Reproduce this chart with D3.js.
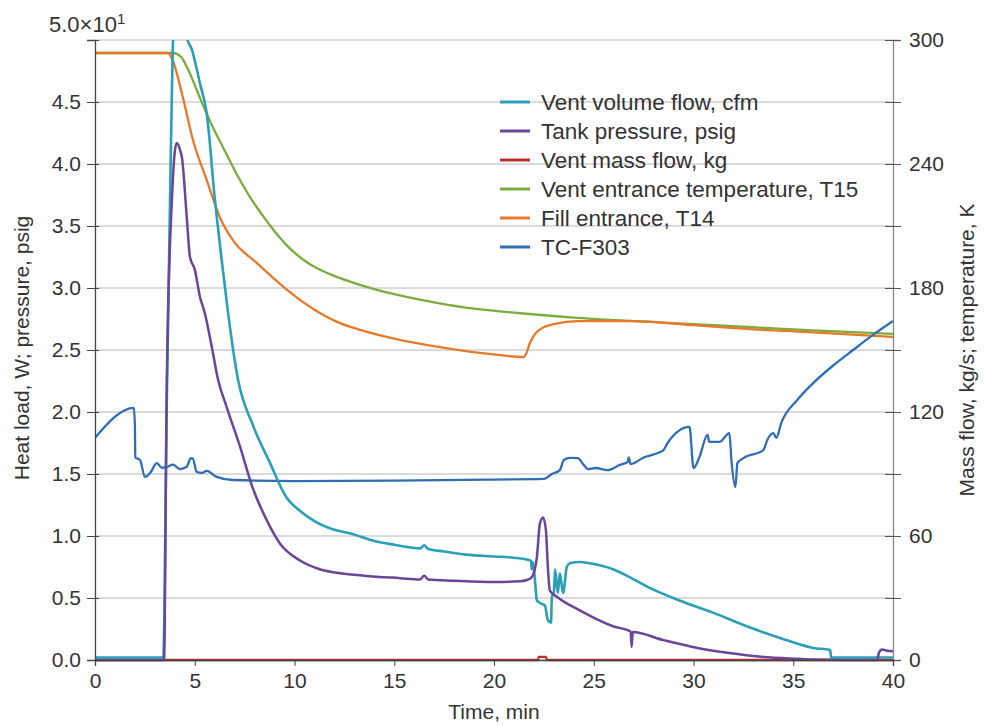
<!DOCTYPE html>
<html><head><meta charset="utf-8">
<script src="https://cdn.jsdelivr.net/npm/d3@7"></script>
<style>
body{margin:0;background:#fff;}
text{font-family:"Liberation Sans",Arial,sans-serif;fill:#333;}
</style></head>
<body><svg id="c" width="984" height="726"></svg>
<script>
// ---- data (time in min) ----
const leftTicks = [0,5,10,15,20,25,30,35,40,45,50];
const rightTicks = [0,30,60,90,120,150,180,210,240,270,300];
const rightLabels = [0,60,120,180,240,300];
const xTicks = [0,5,10,15,20,25,30,35,40];

// left axis series
const ventVolumeFlow = [[0,0.2],[3.42,0.2],[3.6,21],[3.75,36],[3.95,52],[4.2,56],[4.5,53],[4.62,50.1],[4.75,49.6],[4.86,49.2],[5.05,48.0],[5.26,46.5],[5.6,44.1],[6.0,37.3],[6.37,32.0],[6.67,28.0],[7.17,22.6],[7.9,19.0],[8.77,15.9],[9.6,13.1],[10.3,12.0],[11.0,11.2],[12.0,10.5],[12.8,10.2],[14.0,9.6],[15.0,9.3],[16.3,9.0],[16.5,9.25],[16.7,8.95],[17.5,8.75],[18.6,8.5],[20.0,8.35],[21.0,8.25],[21.65,8.1],[21.85,8.0],[21.9,7.3],[21.95,7.9],[22.05,6.5],[22.15,4.8],[22.3,4.6],[22.55,4.4],[22.7,3.2],[22.86,3.0],[22.9,5.1],[23.0,5.4],[23.06,7.3],[23.2,5.4],[23.3,7.0],[23.46,5.4],[23.65,7.5],[23.8,7.8],[24.3,7.9],[24.8,7.8],[26.0,7.3],[27.0,6.5],[27.7,5.9],[29.3,4.8],[31.0,3.8],[32.7,2.7],[34.3,1.8],[36.0,0.97],[36.85,0.8],[36.9,0.2],[40,0.2]];
const tankPressure = [[0,0],[3.46,0],[3.6,22.6],[3.86,37.3],[4.0,41],[4.1,41.7],[4.25,41.2],[4.36,40.5],[4.6,35.7],[4.76,32.5],[5.0,31.5],[5.26,29.3],[5.5,28],[5.86,25.2],[6.17,22.6],[6.6,20.4],[7.27,17.2],[7.9,13.9],[8.6,11.3],[9.27,9.4],[10.3,8.0],[11.3,7.3],[12.3,7.0],[13.5,6.8],[15.3,6.6],[16.3,6.5],[16.5,6.8],[16.7,6.5],[18,6.4],[20,6.3],[21.3,6.35],[21.65,6.45],[21.9,6.7],[22.15,8.3],[22.3,11.0],[22.46,11.5],[22.6,10.5],[22.7,7.5],[22.8,5.6],[23.15,5.1],[24.3,4.0],[26.0,2.7],[26.85,2.3],[26.9,1.05],[26.95,2.25],[28.5,1.6],[30.2,0.97],[31.8,0.56],[33.5,0.24],[35.2,0.1],[36,0.05],[39.2,0],[39.3,0.6],[39.45,0.85],[39.7,0.75],[40,0.7]];

// right axis series
const ventMassFlow = [[0,0],[22.2,0],[22.25,1.5],[22.6,1.5],[22.65,0],[40,0]];
const ventEntranceT15 = [[0,293.7],[3.9,293.7],[4.3,292],[4.7,285],[5.26,272],[5.8,260],[6.42,248],[7.0,237],[7.77,224],[8.1,219.2],[8.5,213.8],[8.9,208.7],[9.27,204.3],[9.7,199.8],[10.1,196.3],[10.6,192.6],[11.2,189.2],[11.8,186.6],[12.28,184.8],[13.2,181.8],[15,177],[17.2,172.7],[19,170],[21.2,167.9],[24,165.7],[27,164],[30,162.5],[33,161],[36,159.5],[40,157.8]];
const fillEntranceT14 = [[0,293.7],[3.66,293.7],[3.9,290],[4.41,272],[4.91,251.6],[5.61,232],[6.27,214],[6.92,203],[8.12,192],[9.27,182],[9.77,178],[11,169.5],[12.28,163],[13.2,160],[15,155.5],[17.2,151.5],[20.2,147.6],[21.5,146.6],[21.6,148],[21.8,153.4],[22.4,160.6],[23,162.5],[24.2,164],[27,164],[30,162],[33,160],[36,158.5],[40,156.3]];
const tcF303 = [[0,107.5],[1.95,122],[2.0,113],[2.02,98],[2.26,96.8],[2.5,88.6],[2.8,91],[3.1,95.3],[3.35,93],[3.6,93.4],[3.9,94.5],[4.26,92.4],[4.6,93.5],[4.8,97.7],[4.9,97.5],[5.1,91],[5.35,90.5],[5.6,91.5],[6.1,88.6],[6.9,87.1],[10,86.6],[15,86.8],[20,87.3],[22.5,87.6],[22.9,90],[23.3,91.9],[23.5,96.8],[23.8,97.8],[24.2,97.7],[24.5,94.4],[24.7,92.4],[25.1,92.9],[25.7,91.9],[26.3,94.4],[26.7,95.8],[26.75,98],[26.85,94.8],[27.5,98],[28.3,100.5],[28.5,101.6],[28.7,105],[29.8,112.8],[30.0,92.9],[30.3,98.2],[30.7,108.9],[30.8,105.5],[31.3,105.5],[31.8,109.8],[31.9,96.8],[32.1,83.7],[32.2,95.3],[32.5,97.7],[33.5,101.6],[33.7,106.5],[34.0,109.8],[34.15,107.5],[34.4,114.7],[35.2,125.8],[36,134],[37,142.5],[38,150],[39,157.3],[40,164]];

const legendNames = ["Vent volume flow, cfm","Tank pressure, psig","Vent mass flow, kg","Vent entrance temperature, T15","Fill entrance, T14","TC-F303"];
const colors = ["#2a9fb8","#6a4598","#b8302e","#7aad3e","#e8792a","#2f6db4"];

// ---- drawing ----
const svg = d3.select("#c");
const L=95,R=893,T=40,B=660;
const FS = "21px";
const x = d3.scaleLinear().domain([0,40]).range([L,R]);
const yL = d3.scaleLinear().domain([0,50]).range([B,T]);
const yR = d3.scaleLinear().domain([0,300]).range([B,T]);

// grid
svg.append("g").selectAll("line").data(leftTicks).join("line")
  .attr("x1",L).attr("x2",R).attr("y1",d=>yL(d)).attr("y2",d=>yL(d))
  .attr("stroke","#cfcfcf").attr("stroke-width",1.6);

svg.append("defs").append("clipPath").attr("id","clip")
  .append("rect").attr("x",L).attr("y",T).attr("width",R-L+2).attr("height",B-T+2);

const smooth = d3.curveMonotoneX;
const lineL = d3.line().curve(smooth).x(d=>x(d[0])).y(d=>yL(d[1]));
const lineR = d3.line().curve(smooth).x(d=>x(d[0])).y(d=>yR(d[1]));
const lineRlin = d3.line().x(d=>x(d[0])).y(d=>yR(d[1]));
const gp = svg.append("g").attr("clip-path","url(#clip)");
const series = [
  {d:ventMassFlow, f:lineRlin, c:colors[2], w:2.3},
  {d:ventEntranceT15, f:lineR, c:colors[3], w:2.3},
  {d:fillEntranceT14, f:lineR, c:colors[4], w:2.3},
  {d:tcF303, f:lineR, c:colors[5], w:2.3},
  {d:ventVolumeFlow, f:lineL, c:colors[0], w:2.6},
  {d:tankPressure, f:lineL, c:colors[1], w:2.5},
];
series.forEach(s=>{
  gp.append("path").attr("d",s.f(s.d)).attr("fill","none")
    .attr("stroke",s.c).attr("stroke-width",s.w).attr("stroke-linejoin","round");
});

// left axis
const axL = svg.append("g").attr("transform",`translate(${L},0)`)
  .call(d3.axisLeft(yL).tickValues(leftTicks).tickSize(8).tickPadding(6)
    .tickFormat(d=> d===50 ? "" : (d/10).toFixed(1)));
axL.select(".domain").attr("stroke","#444").attr("stroke-width",1.3);
axL.selectAll(".tick line").attr("x2",-8).attr("x1",4).attr("stroke","#444");
axL.selectAll("text").style("font-size",FS).attr("fill","#333");

// top-left exponent label
const topLab = svg.append("text").attr("x",49).attr("y",32).style("font-size","22px");
topLab.append("tspan").text("5.0×10");
topLab.append("tspan").attr("dy",-8).style("font-size","15px").text("1");

// right axis
const axR = svg.append("g").attr("transform",`translate(${R},0)`)
  .call(d3.axisRight(yR).tickValues(rightTicks).tickSize(8).tickPadding(8)
    .tickFormat(d=> rightLabels.includes(d) ? d : ""));
axR.select(".domain").attr("stroke","#888").attr("stroke-width",1.3);
axR.selectAll(".tick line").attr("x1",-8).attr("x2",8).attr("stroke","#555");
axR.selectAll("text").style("font-size",FS).attr("fill","#333");

// bottom axis
const axB = svg.append("g").attr("transform",`translate(0,${B})`)
  .call(d3.axisBottom(x).tickValues(xTicks).tickSize(6).tickPadding(7));
axB.select(".domain").attr("stroke","#444").attr("stroke-width",1.3);
axB.selectAll(".tick line").attr("stroke","#444");
axB.selectAll("text").style("font-size",FS).attr("fill","#333");

// axis titles
svg.append("text").attr("transform","translate(29,348) rotate(-90)")
  .attr("text-anchor","middle").style("font-size","21px").text("Heat load, W; pressure, psig");
svg.append("text").attr("transform","translate(974,350) rotate(-90)")
  .attr("text-anchor","middle").style("font-size","21px").text("Mass flow, kg/s; temperature, K");
svg.append("text").attr("x",494).attr("y",719)
  .attr("text-anchor","middle").style("font-size","21px").text("Time, min");

// legend
const lg = svg.append("g");
legendNames.forEach((n,i)=>{
  const yy = 102 + i*29;
  lg.append("line").attr("x1",500).attr("x2",530).attr("y1",yy).attr("y2",yy)
    .attr("stroke",colors[i]).attr("stroke-width",3);
  lg.append("text").attr("x",541).attr("y",yy).attr("dy","0.35em")
    .style("font-size","22.5px").text(n);
});
</script></body></html>
